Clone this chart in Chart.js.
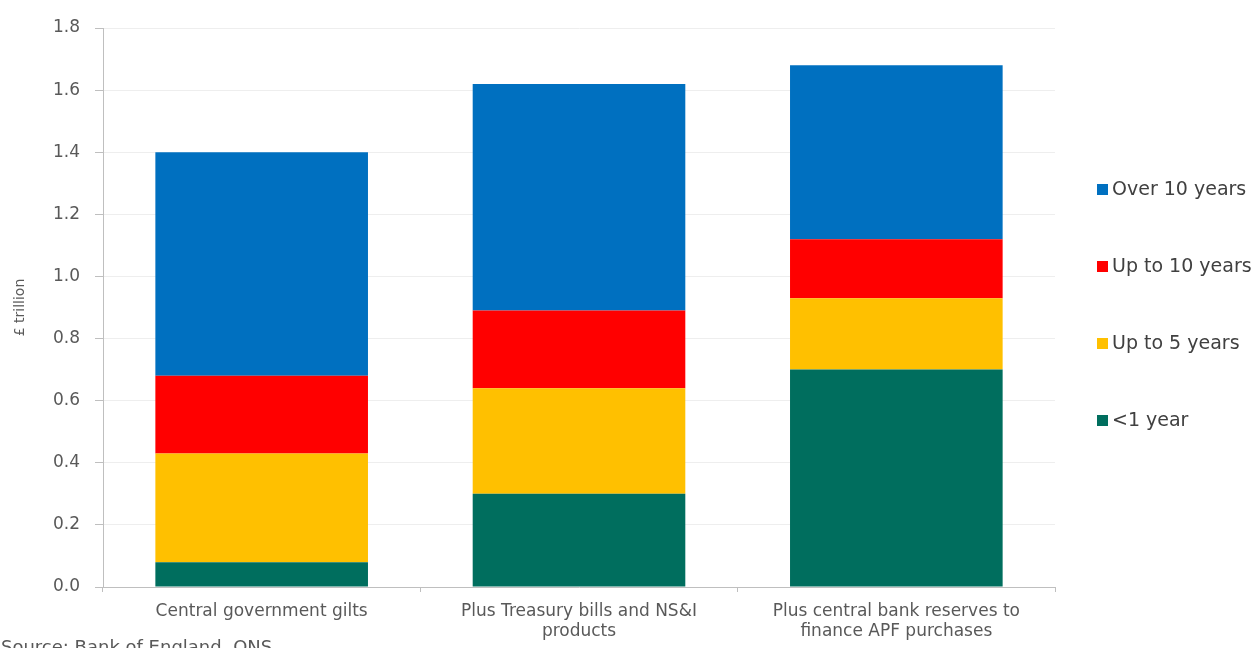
<!DOCTYPE html>
<html><head><meta charset="utf-8">
<script src="https://cdn.jsdelivr.net/npm/chart.js@4"></script>
<style>html,body{margin:0;padding:0;background:#fff;overflow:hidden}</style>
</head><body>
<canvas id="c" width="1254" height="648"></canvas>
<script>
const categories = [['Central government gilts'], ['Plus Treasury bills and NS&I', 'products'], ['Plus central bank reserves to', 'finance APF purchases']];
const seriesNames = ['<1 year', 'Up to 5 years', 'Up to 10 years', 'Over 10 years'];
const lessThan1Year = [0.08, 0.30, 0.70];
const upTo5Years = [0.35, 0.34, 0.23];
const upTo10Years = [0.25, 0.25, 0.19];
const over10Years = [0.72, 0.73, 0.56];
const yAxisTitle = '£ trillion';
const sourceNote = 'Source: Bank of England, ONS';

const colors = ['#006E5E', '#FFC000', '#FF0000', '#0070C0'];
const FONT = '"DejaVu Sans", sans-serif';

const legendPlugin = {
  id: 'sideLegend',
  afterDraw(chart) {
    const ctx = chart.ctx;
    const a = chart.chartArea;
    const ds = chart.data.datasets.slice().reverse();
    const center = (a.top + a.bottom) / 2 - 3;
    const gap = 77;
    ctx.save();
    ctx.font = '19px ' + FONT;
    ctx.textBaseline = 'middle';
    ctx.textAlign = 'left';
    ds.forEach((d, i) => {
      const y = center + (i - (ds.length - 1) / 2) * gap;
      ctx.fillStyle = d.backgroundColor;
      ctx.fillRect(a.right + 42, y - 5, 11, 11);
      ctx.fillStyle = '#404040';
      ctx.fillText(d.label, a.right + 57, y + 1);
    });
    ctx.font = '18px ' + FONT;
    ctx.fillStyle = '#595959';
    ctx.textBaseline = 'top';
    ctx.fillText(sourceNote, 1, 639);
    ctx.restore();
  }
};

const dataSets = [lessThan1Year, upTo5Years, upTo10Years, over10Years].map((arr, i) => ({
  label: seriesNames[i],
  data: arr,
  backgroundColor: colors[i],
  borderWidth: 0,
  barPercentage: 0.67,
  categoryPercentage: 1.0
}));

new Chart(document.getElementById('c'), {
  type: 'bar',
  data: { labels: categories, datasets: dataSets },
  options: {
    responsive: false,
    animation: false,
    layout: { padding: { left: 0, right: 199, top: 28, bottom: 0 } },
    plugins: { legend: { display: false }, tooltip: { enabled: false } },
    scales: {
      x: {
        stacked: true,
        grid: { drawOnChartArea: false, tickLength: 5, color: '#bfbfbf', offset: true },
        border: { color: '#bfbfbf' },
        ticks: { color: '#595959', font: { family: FONT, size: 17, lineHeight: 1.15 }, padding: 10, maxRotation: 0 },
        afterFit(s) { s.height = 61; }
      },
      y: {
        stacked: true,
        min: 0, max: 1.8,
        grid: { color: '#eeeeee', tickLength: 8, tickColor: '#bfbfbf' },
        border: { color: '#bfbfbf' },
        ticks: { stepSize: 0.2, color: '#595959', font: { family: FONT, size: 17 }, padding: 15,
          callback: v => Number(v).toFixed(1) },
        title: { display: true, text: yAxisTitle, color: '#595959', font: { family: FONT, size: 14 }, padding: { top: 12, bottom: 0 } },
        afterFit(s) { s.width = 103; }
      }
    }
  },
  plugins: [legendPlugin]
});
</script>
</body></html>
